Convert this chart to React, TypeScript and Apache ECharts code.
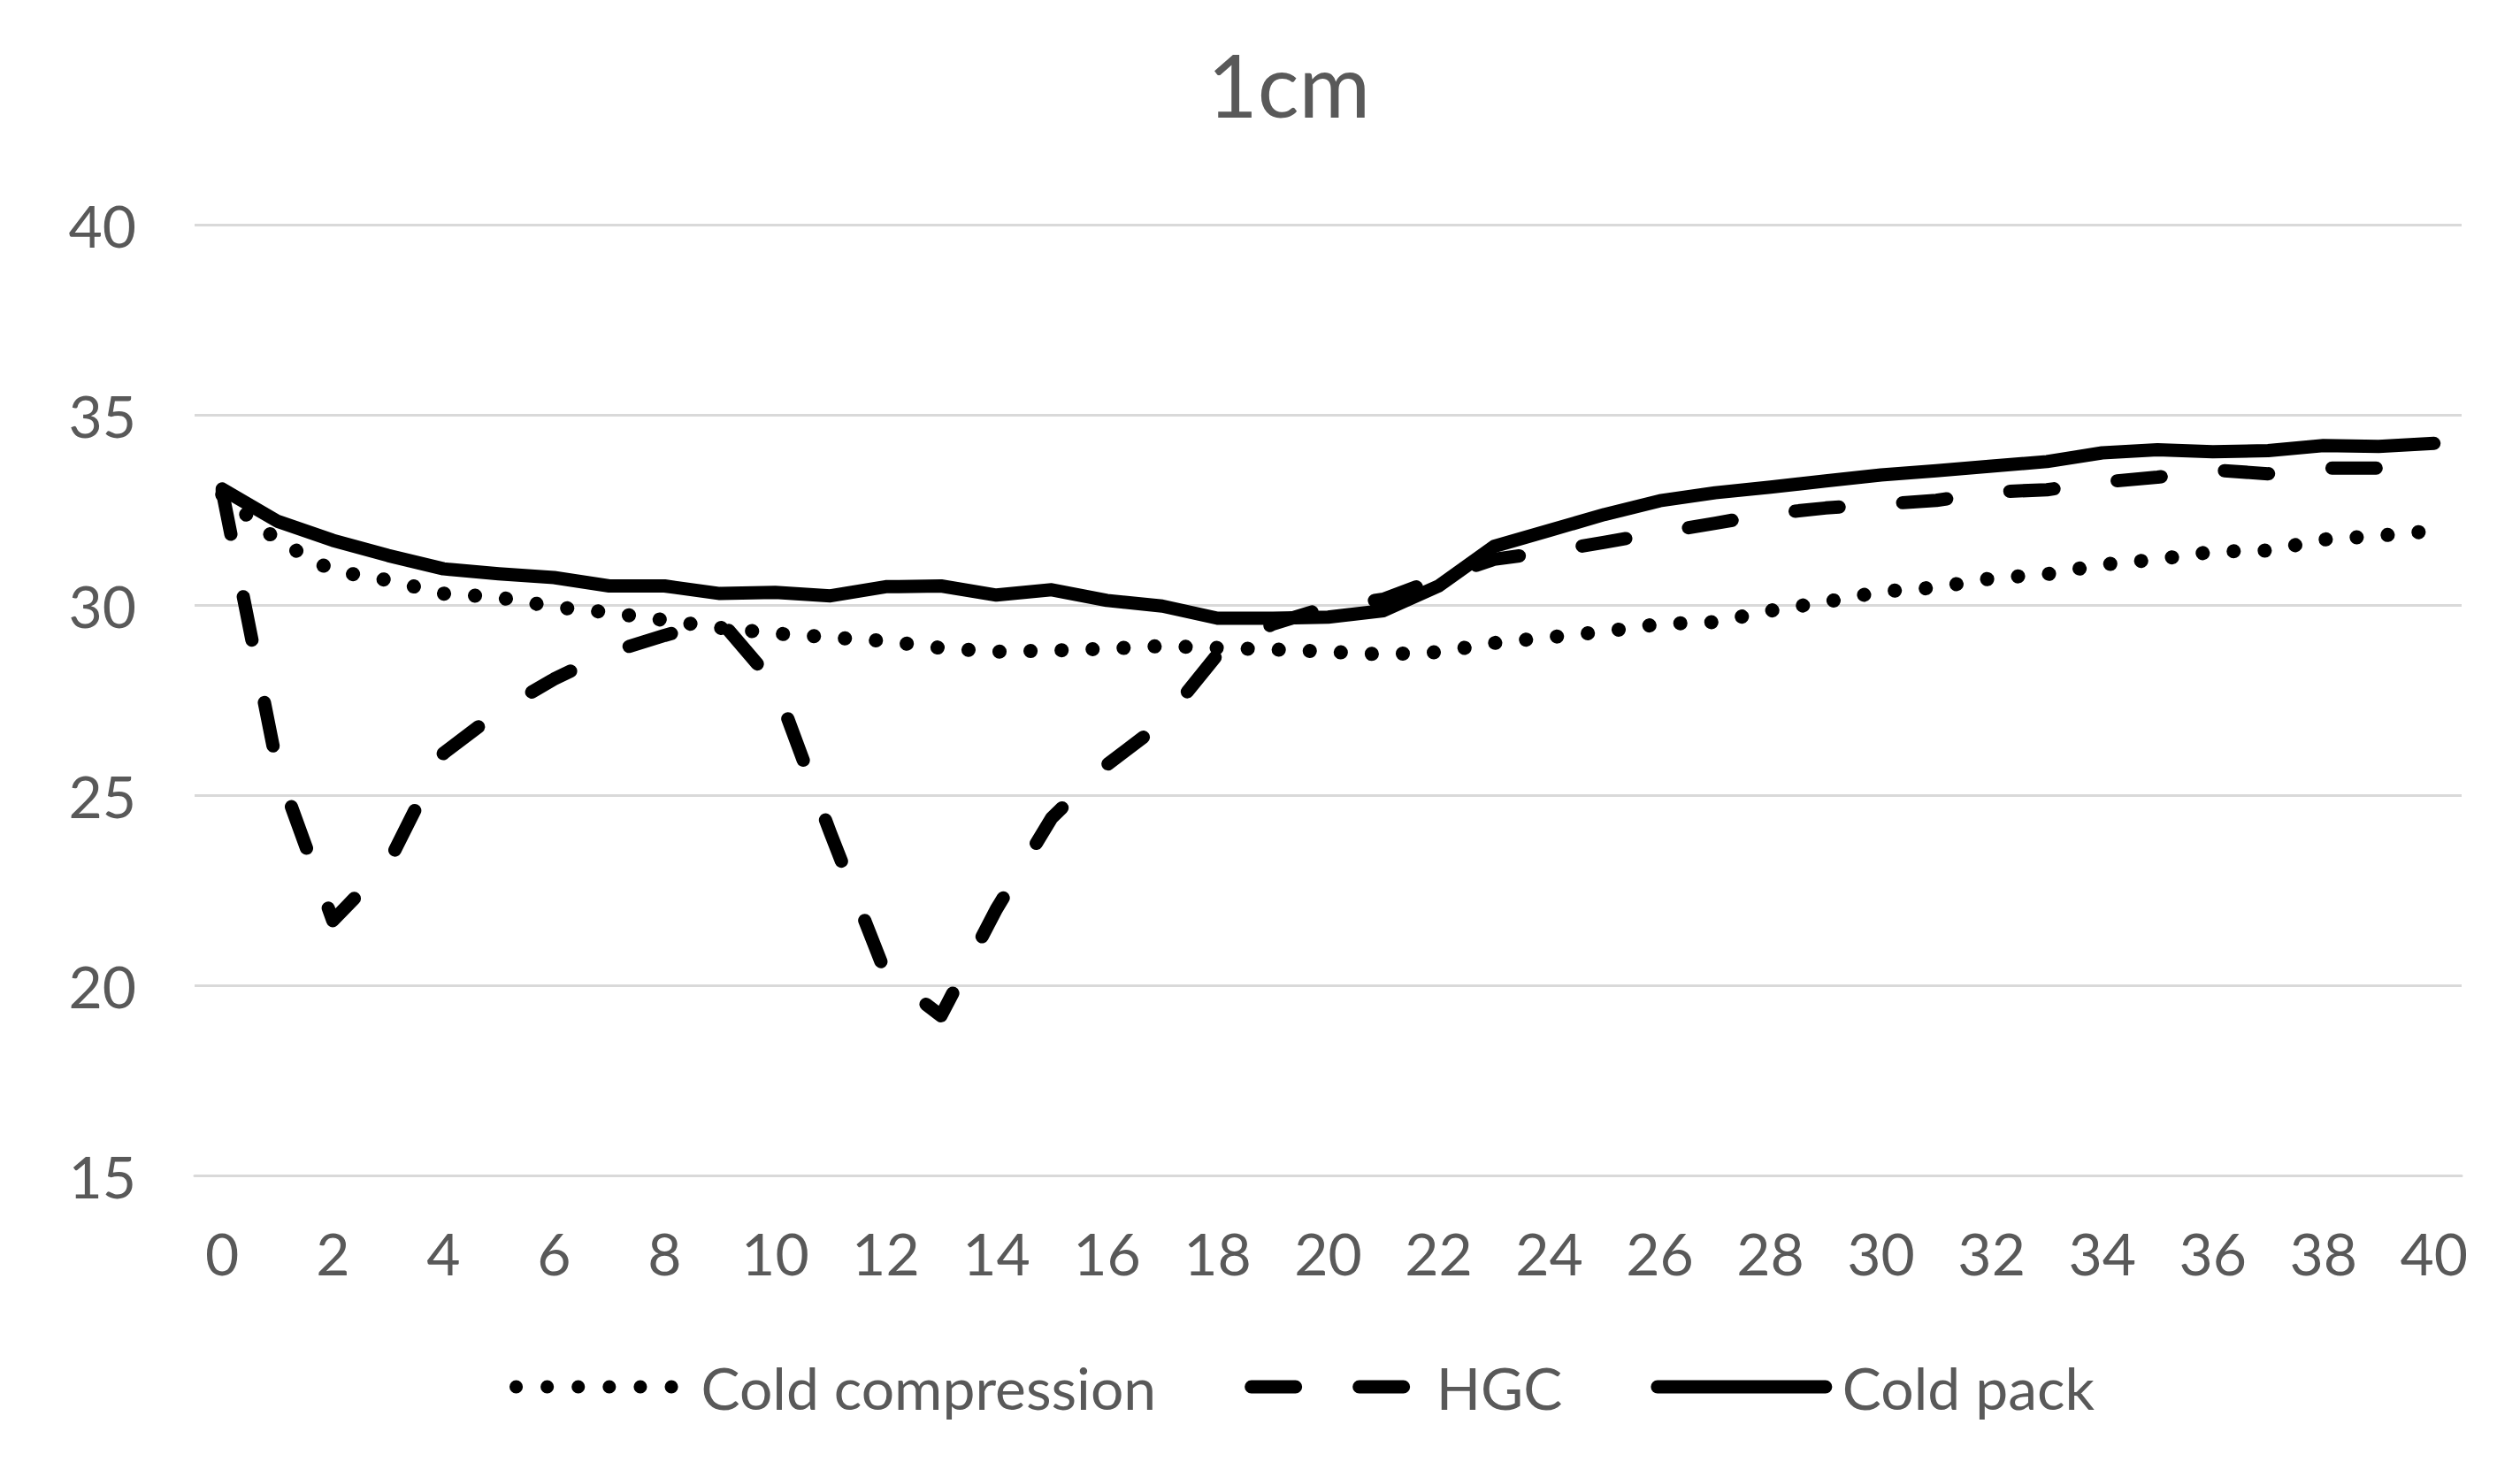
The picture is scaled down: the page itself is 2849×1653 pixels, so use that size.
import React, { useEffect, useRef } from "react";
import * as echarts from "echarts";

const categories: string[] = Array.from({ length: 41 }, (_, i) => String(i));

const coldCompression: number[] = [
  32.9, 31.7, 30.9, 30.65, 30.3, 30.2, 29.95, 29.8, 29.6, 29.4,
  29.25, 29.15, 29.05, 28.87, 28.77, 28.8, 28.85, 28.92, 28.87, 28.83,
  28.77, 28.7, 28.76, 29.0, 29.15, 29.3, 29.5, 29.55, 29.85, 30.08,
  30.35, 30.46, 30.7, 30.81, 31.06, 31.2, 31.4, 31.43, 31.72, 31.82,
  31.95,
];

const hgc: number[] = [
  33.0, 25.7, 21.7, 23.2, 26.1, 27.2, 28.05, 28.75, 29.2, 29.6,
  27.9, 24.0, 20.3, 19.2, 22.0, 24.4, 25.8, 26.9, 28.7, 29.5,
  29.95, 30.15, 30.7, 31.2, 31.4, 31.65, 31.9, 32.15, 32.4, 32.55,
  32.65, 32.75, 32.97, 33.03, 33.23, 33.36, 33.55, 33.45, 33.6, 33.6,
  33.78,
];

const coldPack: number[] = [
  33.05, 32.2, 31.7, 31.3, 30.95, 30.82, 30.72, 30.5, 30.5, 30.3,
  30.33, 30.24, 30.48, 30.5, 30.26, 30.4, 30.12, 29.97, 29.65, 29.65,
  29.68, 29.85, 30.5, 31.54, 31.96, 32.38, 32.74, 32.95, 33.1, 33.26,
  33.42, 33.53, 33.65, 33.77, 34.0, 34.08, 34.03, 34.06, 34.19, 34.17,
  34.25,
];

const seriesNames: string[] = ["Cold compression", "HGC", "Cold pack"];
const titleText = "1cm";

export default function App() {
  const ref = useRef<HTMLDivElement>(null);

  useEffect(() => {
    if (!ref.current) return;
    const chart = echarts.init(ref.current, undefined, { renderer: "svg" });
    const font = "Lato, 'Open Sans', sans-serif";
    const gray = "#595959";
    chart.setOption({
      animation: false,
      backgroundColor: "#ffffff",
      title: {
        text: titleText,
        left: 1452,
        top: 90,
        textAlign: "center",
        textVerticalAlign: "middle",
        textStyle: { fontFamily: font, fontSize: 98, fontWeight: "normal", color: gray },
      },
      grid: { left: 220, right: 66, top: 254, bottom: 324, containLabel: false },
      xAxis: {
        type: "category",
        data: categories,
        boundaryGap: true,
        axisLine: { show: true, lineStyle: { color: "#D9D9D9", width: 3 } },
        axisTick: { show: false },
        axisLabel: {
          interval: 1,
          margin: 54,
          fontFamily: font,
          fontSize: 66,
          color: gray,
        },
        splitLine: { show: false },
      },
      yAxis: {
        type: "value",
        min: 15,
        max: 40,
        interval: 5,
        axisLine: { show: false },
        axisTick: { show: false },
        axisLabel: { margin: 66, fontFamily: font, fontSize: 66, color: gray },
        splitLine: { show: true, lineStyle: { color: "#D9D9D9", width: 3 } },
      },
      legend: {
        left: 571,
        top: 1530,
        itemWidth: 190,
        itemHeight: 16,
        itemGap: 100,
        itemStyle: { opacity: 0 },
        lineStyle: { width: 15 },
        textStyle: {
          fontFamily: font,
          fontSize: 66,
          color: gray,
          padding: [0, 0, 0, 14],
          verticalAlign: "middle",
        },
        data: seriesNames,
      },
      series: [
        {
          name: seriesNames[0],
          type: "line",
          data: coldCompression,
          symbol: "none",
          lineStyle: { color: "#000000", width: 16, type: [0.1, 35], cap: "round", join: "round" },
          itemStyle: { color: "#000000" },
        },
        {
          name: seriesNames[1],
          type: "line",
          data: hgc,
          symbol: "none",
          lineStyle: { color: "#000000", width: 15, type: [50, 72], cap: "round", join: "round" },
          itemStyle: { color: "#000000" },
        },
        {
          name: seriesNames[2],
          type: "line",
          data: coldPack,
          symbol: "none",
          lineStyle: { color: "#000000", width: 15, type: "solid", cap: "round", join: "round" },
          itemStyle: { color: "#000000" },
        },
      ],
    });
    return () => chart.dispose();
  }, []);

  return (
    <div
      ref={ref}
      style={{ position: "fixed", left: 0, top: 0, width: 2849, height: 1653 }}
    />
  );
}
